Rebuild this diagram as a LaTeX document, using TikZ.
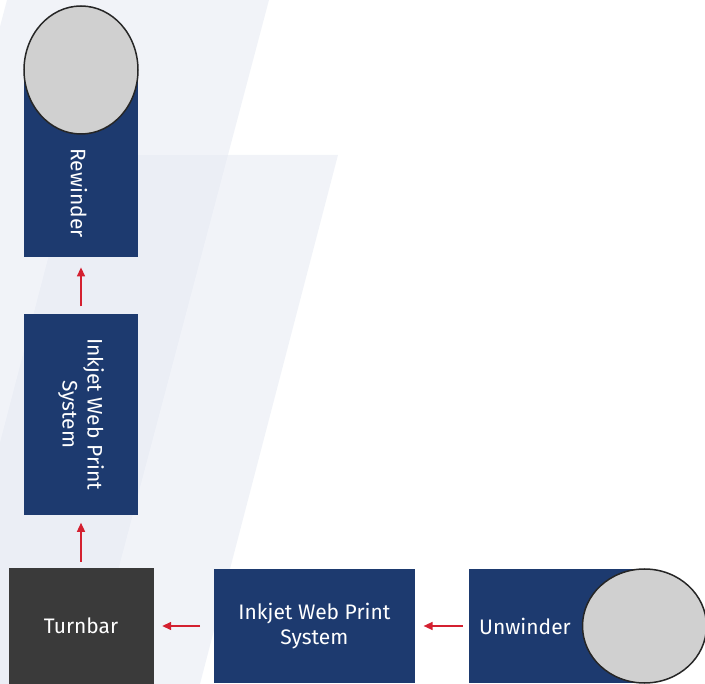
\documentclass[tikz,border=0pt]{standalone}
\usepackage{fontspec}
\setmainfont{Fira Sans}
\usetikzlibrary{positioning, arrows.meta, shapes.geometric}
\definecolor{navy}{HTML}{1D3A6F}
\definecolor{coal}{HTML}{3A3A3A}
\definecolor{rollgrey}{HTML}{D0D0D0}
\definecolor{arrowred}{HTML}{D42030}
\definecolor{stripe}{HTML}{E4E8F2}
\tikzset{
box/.style={rectangle, fill=navy, text=white, inner sep=0pt, align=center,
  font=\fontsize{21}{25}\selectfont},
roll/.style={ellipse, draw=black!85, line width=1.5pt, fill=rollgrey, inner sep=0pt},
caption/.style={text=white, font=\fontsize{21}{25}\selectfont, align=center},
flow/.style={draw=arrowred, line width=1.4pt, -{Triangle[length=9pt,width=8pt]}},
}

\begin{document}
\begin{tikzpicture}[x=1pt, y=-1pt]
    \useasboundingbox (0,0) rectangle (705,684);
    \begin{scope}
    \clip (0,0) rectangle (705,684);
    \fill[stripe, fill opacity=.5] (7,0) -- (269,0) -- (88,684) -- (-174,684) -- cycle;
    \fill[stripe, fill opacity=.5] (75,155) -- (338,155) -- (200,684) -- (-63,684) -- cycle;
    \end{scope}

    \node[box, fill=coal, minimum width=145pt, minimum height=116pt] (turn) at (81,626) {Turnbar};
    \node[box, minimum width=114pt, minimum height=201pt, above=53pt of turn] (ink1) {};
    \node[caption, rotate=-90] (ink1txt) at (ink1) {Inkjet Web Print\\System};
    \node[box, minimum width=114pt, minimum height=187pt, above=56pt of ink1] (rew) {};
    \node[roll, minimum width=114pt, minimum height=128pt] (rewroll) at (rew.north) {};
    \node[caption, rotate=-90] (rewtxt) at (79,193) {Rewinder};
    \node[box, minimum width=201pt, minimum height=114pt, right=60pt of turn] (ink2) {Inkjet Web Print\\System};
    \node[box, minimum width=175pt, minimum height=114pt, right=54pt of ink2] (unw) {};
    \node[roll, minimum width=124pt, minimum height=114pt] (unwroll) at (unw.east) {};
    \node[caption] (unwtxt) at (525,626) {Unwinder};

    \draw[flow, shorten <=7pt, shorten >=10pt] (ink1) -- (rew);
    \draw[flow, shorten <=6pt, shorten >=8pt] (turn) -- (ink1);
    \draw[flow, shorten <=13.5pt, shorten >=8.5pt] (ink2) -- (turn);
    \draw[flow, shorten <=6.5pt, shorten >=8.5pt] (unw) -- (ink2);
\end{tikzpicture}
\end{document}
